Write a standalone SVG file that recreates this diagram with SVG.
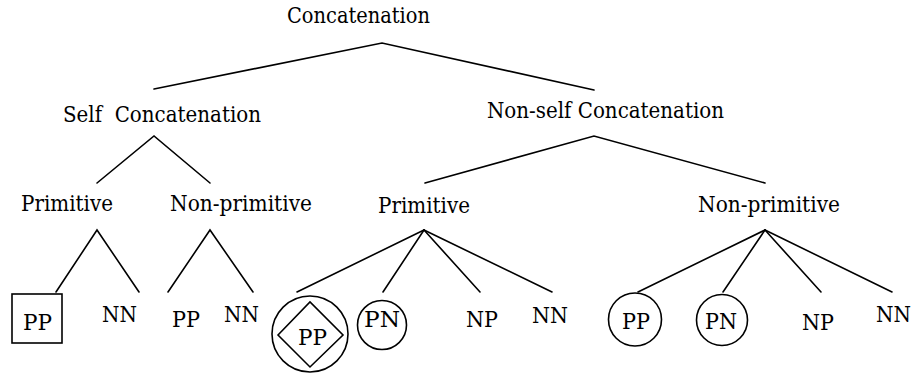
<svg xmlns="http://www.w3.org/2000/svg" width="915" height="377" viewBox="0 0 915 377">
<style>
.t text{font-size:22px;fill:#000}
.e{stroke:#000;stroke-width:1.6;fill:none;stroke-linecap:round}
.s{stroke:#000;stroke-width:1.6;fill:none}
</style>
<rect width="915" height="377" fill="#fff"/>
<g id="connectors" class="e">
<polyline points="154,89 382,43 594,90"/>
<polyline points="97,183 154,136 210,183"/>
<polyline points="425,183 594,136 765,183"/>
<polyline points="56,292 97,230 139,292"/>
<polyline points="168,292 210,230 253,292"/>
<line x1="424" y1="230" x2="297" y2="292"/>
<line x1="424" y1="230" x2="383" y2="292"/>
<line x1="424" y1="230" x2="480" y2="292"/>
<line x1="424" y1="230" x2="552" y2="292"/>
<line x1="765" y1="230" x2="638" y2="292"/>
<line x1="765" y1="230" x2="723" y2="292"/>
<line x1="765" y1="230" x2="821" y2="292"/>
<line x1="765" y1="230" x2="892" y2="292"/>
</g>
<g class="t" font-family="'DejaVu Serif', 'Liberation Serif', serif">
<g id="root"><text x="287" y="23" textLength="143" lengthAdjust="spacingAndGlyphs">Concatenation</text></g>
<g id="self"><text x="63" y="122" xml:space="preserve" textLength="198" lengthAdjust="spacingAndGlyphs">Self  Concatenation</text></g>
<g id="nonself"><text x="487" y="118" textLength="237" lengthAdjust="spacingAndGlyphs">Non-self Concatenation</text></g>
<g id="self-prim"><text x="21" y="211" textLength="92" lengthAdjust="spacingAndGlyphs">Primitive</text></g>
<g id="self-nonprim"><text x="170" y="211" textLength="142" lengthAdjust="spacingAndGlyphs">Non-primitive</text></g>
<g id="ns-prim"><text x="378" y="213" textLength="92" lengthAdjust="spacingAndGlyphs">Primitive</text></g>
<g id="ns-nonprim"><text x="698" y="212" textLength="142" lengthAdjust="spacingAndGlyphs">Non-primitive</text></g>
<g id="sp-pp"><rect class="s" x="12" y="294" width="50" height="49"/><text x="23" y="330" textLength="29" lengthAdjust="spacingAndGlyphs">PP</text></g>
<g id="sp-nn"><text x="102" y="322" textLength="35" lengthAdjust="spacingAndGlyphs">NN</text></g>
<g id="snp-pp"><text x="172" y="327" textLength="28" lengthAdjust="spacingAndGlyphs">PP</text></g>
<g id="snp-nn"><text x="224" y="322" textLength="35" lengthAdjust="spacingAndGlyphs">NN</text></g>
<g id="np-pp"><circle class="s" cx="310" cy="334" r="38"/><polygon class="s" points="278,335 310,302 343,335 310,367"/><text x="298" y="345" textLength="29" lengthAdjust="spacingAndGlyphs">PP</text></g>
<g id="np-pn"><circle class="s" cx="382" cy="325" r="24.5"/><text x="364" y="327" textLength="36" lengthAdjust="spacingAndGlyphs">PN</text></g>
<g id="np-np"><text x="466" y="327" textLength="32" lengthAdjust="spacingAndGlyphs">NP</text></g>
<g id="np-nn"><text x="532" y="323" textLength="36" lengthAdjust="spacingAndGlyphs">NN</text></g>
<g id="nn-pp"><circle class="s" cx="635" cy="319.5" r="26.5"/><text x="622" y="329" textLength="28" lengthAdjust="spacingAndGlyphs">PP</text></g>
<g id="nn-pn"><circle class="s" cx="722" cy="320" r="25.5"/><text x="705" y="329" textLength="32" lengthAdjust="spacingAndGlyphs">PN</text></g>
<g id="nn-np"><text x="802" y="330" textLength="32" lengthAdjust="spacingAndGlyphs">NP</text></g>
<g id="nn-nn"><text x="876" y="322" textLength="35" lengthAdjust="spacingAndGlyphs">NN</text></g>
</g>
</svg>
